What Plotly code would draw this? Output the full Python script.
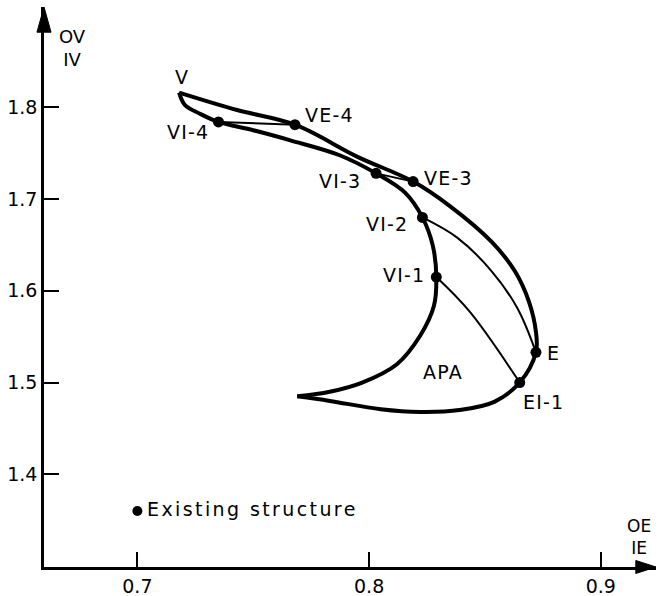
import plotly.graph_objects as go

# Attainable region boundary, from the V tip along the outer edge to the APA cusp
outer_x = [0.718, 0.743, 0.768, 0.795, 0.819, 0.835, 0.853, 0.863, 0.869, 0.872,
           0.872, 0.865, 0.854, 0.839, 0.822, 0.805, 0.783, 0.769]
outer_y = [1.816, 1.797, 1.781, 1.746, 1.719, 1.692, 1.653, 1.621, 1.588, 1.555,
           1.533, 1.500, 1.479, 1.470, 1.468, 1.471, 1.480, 1.485]

# Inner edge, from the APA cusp back up to the V tip
inner_x = [0.769, 0.783, 0.797, 0.812, 0.822, 0.828, 0.829, 0.8275, 0.823, 0.8155,
           0.803, 0.787, 0.766, 0.750, 0.735, 0.727, 0.7205, 0.718]
inner_y = [1.485, 1.490, 1.500, 1.520, 1.551, 1.584, 1.615, 1.649, 1.680, 1.707,
           1.728, 1.748, 1.764, 1.775, 1.784, 1.793, 1.8025, 1.816]

# Tie lines between paired design points
tie4_x = [0.735, 0.768]
tie4_y = [1.784, 1.781]
tie3_x = [0.803, 0.819]
tie3_y = [1.728, 1.719]
tie2_x = [0.823, 0.838, 0.853, 0.864, 0.872]
tie2_y = [1.680, 1.658, 1.621, 1.581, 1.533]
tie1_x = [0.829, 0.8435, 0.865]
tie1_y = [1.615, 1.577, 1.500]

# Named design points
point_names = ["VI-4", "VE-4", "VI-3", "VE-3", "VI-2", "VI-1", "E", "EI-1"]
point_x = [0.735, 0.768, 0.803, 0.819, 0.823, 0.829, 0.872, 0.865]
point_y = [1.784, 1.781, 1.728, 1.719, 1.680, 1.615, 1.533, 1.500]

# Vertex of the region
vertex_name = "V"
vertex_x = 0.718
vertex_y = 1.816

# Existing structure
existing_x = [0.700]
existing_y = [1.360]
existing_label = "Existing structure"

region_label = "APA"
region_x = 0.832
region_y = 1.512

x_ticks = [0.7, 0.8, 0.9]
y_ticks = [1.4, 1.5, 1.6, 1.7, 1.8]

FONT = "DejaVu Sans"
BLACK = "#000000"

fig = go.Figure()

for xs, ys in [(outer_x, outer_y), (inner_x, inner_y)]:
    fig.add_trace(go.Scatter(x=xs, y=ys, mode="lines",
                             line=dict(color=BLACK, width=4, shape="spline", smoothing=1.0),
                             hoverinfo="skip", showlegend=False))

for xs, ys in [(tie4_x, tie4_y), (tie3_x, tie3_y), (tie2_x, tie2_y), (tie1_x, tie1_y)]:
    fig.add_trace(go.Scatter(x=xs, y=ys, mode="lines",
                             line=dict(color=BLACK, width=2, shape="spline", smoothing=1.0),
                             hoverinfo="skip", showlegend=False))

fig.add_trace(go.Scatter(x=point_x, y=point_y, mode="markers",
                         marker=dict(color=BLACK, size=11),
                         text=point_names, showlegend=False))
fig.add_trace(go.Scatter(x=existing_x, y=existing_y, mode="markers",
                         marker=dict(color=BLACK, size=10),
                         text=[existing_label], showlegend=False))

label_font = dict(family=FONT, size=19, color=BLACK)


def spaced(t, ls=1.2):
    return f'<span style="letter-spacing:{ls}px">{t}</span>'


# label placement: (anchor, x shift px, y shift px)
label_place = {
    "VI-4": ("right", -7, -10),
    "VE-4": ("left", 8, 10),
    "VI-3": ("right", -13, -8),
    "VE-3": ("left", 9, 4),
    "VI-2": ("right", -12, -7),
    "VI-1": ("right", -9, 2),
    "E": ("left", 9, -1),
    "EI-1": ("left", 1, -19),
}
for name, px_, py_ in zip(point_names, point_x, point_y):
    anc, dx, dy = label_place[name]
    fig.add_annotation(x=px_, y=py_, text=spaced(name), showarrow=False,
                       xanchor=anc, yanchor="middle", xshift=dx, yshift=dy,
                       font=label_font)

fig.add_annotation(x=vertex_x, y=vertex_y, text=vertex_name, showarrow=False,
                   xanchor="center", yanchor="middle", xshift=2, yshift=16,
                   font=label_font)
fig.add_annotation(x=region_x, y=region_y, text=spaced(region_label), showarrow=False,
                   xanchor="center", yanchor="middle", font=label_font)
fig.add_annotation(x=existing_x[0], y=existing_y[0], text=spaced(existing_label, 2.4),
                   showarrow=False, xanchor="left", yanchor="middle",
                   xshift=8, yshift=2, font=label_font)

# axis titles, written as stacked ratios
fig.add_annotation(xref="paper", yref="paper", x=0.0466, y=0.927, text="OV<br>IV",
                   showarrow=False, xanchor="center", yanchor="middle",
                   align="center", font=dict(family=FONT, size=18, color=BLACK))
fig.add_annotation(xref="paper", yref="paper", x=0.973, y=0.054, text="OE<br>IE",
                   showarrow=False, xanchor="center", yanchor="middle",
                   align="center", font=dict(family=FONT, size=17, color=BLACK))

# arrowheads at the ends of both axes
fig.add_shape(type="path", xref="paper", yref="paper",
              path="M 0 1 L -0.0115 0.955 L 0.0115 0.955 Z",
              fillcolor=BLACK, line=dict(color=BLACK, width=1))
fig.add_shape(type="path", xref="paper", yref="paper",
              path="M 1 0 L 0.967 0.0116 L 0.967 -0.0116 Z",
              fillcolor=BLACK, line=dict(color=BLACK, width=1))

axis_common = dict(showgrid=False, zeroline=False, showline=True, linecolor=BLACK,
                   linewidth=2.5, ticks="inside", ticklen=15, tickwidth=2,
                   tickcolor=BLACK, tickfont=dict(family=FONT, size=19, color=BLACK),
                   mirror=False, automargin=False)

fig.update_xaxes(range=[0.6597, 0.9238], tickvals=x_ticks,
                 ticktext=[f"{v:.1f}" for v in x_ticks], **axis_common)
fig.update_yaxes(range=[1.299, 1.9093], tickvals=y_ticks,
                 ticktext=[f"{v:.1f}" for v in y_ticks], **axis_common)

fig.update_layout(width=658, height=596,
                  margin=dict(l=44, r=2, t=7, b=29),
                  paper_bgcolor="white", plot_bgcolor="white",
                  showlegend=False)

fig.write_html("out.html")
